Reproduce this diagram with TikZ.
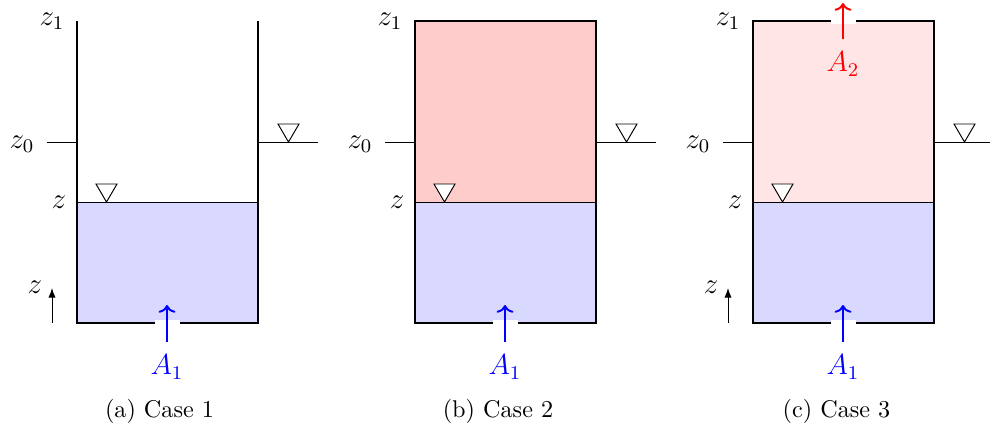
\documentclass[tikz,border=0pt]{standalone}
\usetikzlibrary{arrows.meta}
\begin{document}
\begin{tikzpicture}[x=0.4132pt,y=-0.4132pt,
  wall/.style={line width=0.8pt},
  thinline/.style={line width=0.4pt},
  surfmark/.style={line width=0.4pt,fill=white},
  gapmask/.style={fill=white,draw=none},
  flowA/.style={line width=0.8pt,-{To[length=3.2pt,width=7pt]}},
  zaxis/.style={line width=0.4pt,-{Latex[length=4pt,width=3pt]}},
  lbl/.style={inner sep=0pt,font=\large},
  captext/.style={inner sep=0pt},
]
\useasboundingbox (0,0) rectangle (990,429);

% ---------------- Case 1 ----------------
\begin{scope}
  \fill[blue!15] (77,202) rectangle (258,323);
  \draw[thinline] (77,202) -- (258,202);
  \draw[wall] (77,21) -- (77,323) -- (258,323) -- (258,21);
  \fill[gapmask] (155,320) rectangle (180,326);
  \draw[thinline] (47,142) -- (77,142);
  \draw[thinline] (258,142) -- (318,142);
  \draw[surfmark] (278,124) -- (299,124) -- (288.5,142) -- cycle;
  \draw[surfmark] (96,184) -- (117,184) -- (106.5,202) -- cycle;
  \coordinate (zaS1) at (52,323);
  \coordinate (zaE1) at (52,288);
  \draw[zaxis] (zaS1) -- (zaE1);
  \coordinate (aS1) at (167,342);
  \coordinate (aE1) at (167,305);
  \draw[flowA,blue] (aS1) -- (aE1);
  \node[lbl] (z1a) at (52,21) {$z_1$};
  \node[lbl] (z0a) at (22,144) {$z_0$};
  \node[lbl] (zsa) at (59,202) {$z$};
  \node[lbl] (zaxa) at (35,287) {$z$};
  \node[lbl,text=blue] (A1a) at (167,367) {$A_1$};
  \node[captext] (capa) at (159.5,411) {(a) Case 1};
\end{scope}

% ---------------- Case 2 ----------------
\begin{scope}[shift={(338,0)}]
  \fill[red!20] (77,21) rectangle (258,202);
  \fill[blue!15] (77,202) rectangle (258,323);
  \draw[thinline] (77,202) -- (258,202);
  \draw[wall] (77,21) rectangle (258,323);
  \fill[gapmask] (155,320) rectangle (180,326);
  \draw[thinline] (47,142) -- (77,142);
  \draw[thinline] (258,142) -- (318,142);
  \draw[surfmark] (278,124) -- (299,124) -- (288.5,142) -- cycle;
  \draw[surfmark] (96,184) -- (117,184) -- (106.5,202) -- cycle;
  \coordinate (aS2) at (167,342);
  \coordinate (aE2) at (167,305);
  \draw[flowA,blue] (aS2) -- (aE2);
  \node[lbl] (z1b) at (52,21) {$z_1$};
  \node[lbl] (z0b) at (22,144) {$z_0$};
  \node[lbl] (zsb) at (59,202) {$z$};
  \node[lbl,text=blue] (A1b) at (167,367) {$A_1$};
  \node[captext] (capb) at (160,411) {(b) Case 2};
\end{scope}

% ---------------- Case 3 ----------------
\begin{scope}[shift={(676,0)}]
  \fill[red!10] (77,21) rectangle (258,202);
  \fill[blue!15] (77,202) rectangle (258,323);
  \draw[thinline] (77,202) -- (258,202);
  \draw[wall] (77,21) rectangle (258,323);
  \fill[gapmask] (155,320) rectangle (180,326);
  \fill[gapmask] (155,18) rectangle (180,24);
  \draw[thinline] (47,142) -- (77,142);
  \draw[thinline] (258,142) -- (318,142);
  \draw[surfmark] (278,124) -- (299,124) -- (288.5,142) -- cycle;
  \draw[surfmark] (96,184) -- (117,184) -- (106.5,202) -- cycle;
  \coordinate (zaS3) at (52,323);
  \coordinate (zaE3) at (52,288);
  \draw[zaxis] (zaS3) -- (zaE3);
  \coordinate (aS3) at (167,342);
  \coordinate (aE3) at (167,305);
  \draw[flowA,blue] (aS3) -- (aE3);
  \coordinate (bS3) at (167,39);
  \coordinate (bE3) at (167,3);
  \draw[flowA,red] (bS3) -- (bE3);
  \node[lbl] (z1c) at (52,21) {$z_1$};
  \node[lbl] (z0c) at (22,144) {$z_0$};
  \node[lbl] (zsc) at (59,202) {$z$};
  \node[lbl] (zaxc) at (35,287) {$z$};
  \node[lbl,text=blue] (A1c) at (167,367) {$A_1$};
  \node[lbl,text=red] (A2c) at (167,64) {$A_2$};
  \node[captext] (capc) at (160.5,411) {(c) Case 3};
\end{scope}
\end{tikzpicture}
\end{document}
